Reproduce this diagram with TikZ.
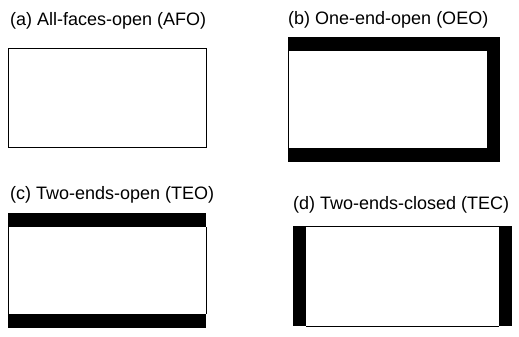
\documentclass[tikz,border=0pt]{standalone}
\usepackage{fontspec}
\setmainfont{Liberation Sans}
\begin{document}
\begin{tikzpicture}[x=1pt,y=-1pt,
  outline/.style={draw=black,line width=0.9pt},
  wall/.style={fill=black,draw=none},
  caption/.style={anchor=base west,inner sep=0pt,font=\fontsize{18}{21}\selectfont}]
\useasboundingbox (0,0) rectangle (519,337);

% (a) all faces open: plain outline
\node[caption] (capA) at (10,26) {(a) All-faces-open (AFO)};
\draw[outline] (8,48) rectangle (206,147);

% (b) one end open: walls on top, bottom and right
\node[caption] (capB) at (288,25) {(b) One-end-open (OEO)};
\draw[outline] (288,51) -- (288,148);
\fill[wall] (288,37) rectangle (500,51);
\fill[wall] (288,148) rectangle (500,162);
\fill[wall] (487,37) rectangle (500,162);

% (c) two ends open: walls on top and bottom
\node[caption] (capC) at (10,199) {(c) Two-ends-open (TEO)};
\draw[outline] (8,227) -- (8,314);
\draw[outline] (206,227) -- (206,314);
\fill[wall] (8,213) rectangle (206,227);
\fill[wall] (8,314) rectangle (206,328);

% (d) two ends closed: walls on left and right
\node[caption] (capD) at (293,209) {(d) Two-ends-closed (TEC)};
\draw[outline] (306,226) -- (499,226);
\draw[outline] (306,326) -- (499,326);
\fill[wall] (293,226) rectangle (306,326);
\fill[wall] (499,226) rectangle (512,326);
\end{tikzpicture}
\end{document}
